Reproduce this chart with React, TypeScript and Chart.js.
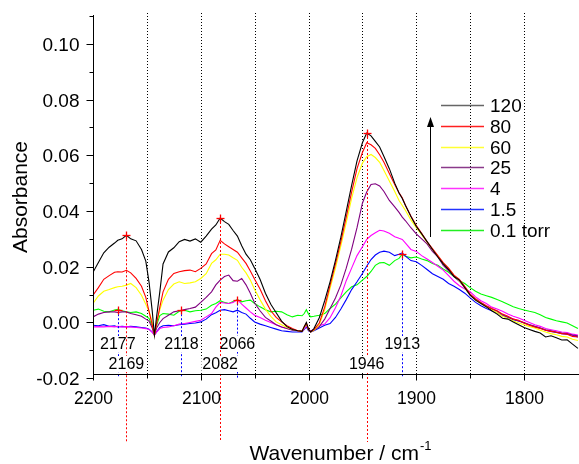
import React, { useEffect, useRef } from 'react';
import { Chart, registerables } from 'chart.js';
Chart.register(...registerables);

const WAVENUMBERS = [
  2200, 2195, 2190, 2185, 2180, 2177, 2173, 2169, 2165, 2160,
  2155, 2151, 2148, 2145, 2143, 2141, 2138, 2135, 2130, 2125,
  2120, 2115, 2110, 2105, 2100, 2095, 2090, 2086, 2082, 2078,
  2074, 2070, 2066, 2062, 2058, 2054, 2050, 2045, 2040, 2035,
  2030, 2025, 2020, 2015, 2010, 2006, 2004, 2002, 2000, 1998,
  1995, 1990, 1985, 1980, 1975, 1970, 1965, 1960, 1955, 1950,
  1946, 1942, 1938, 1934, 1930, 1925, 1920, 1916, 1913, 1910,
  1905, 1900, 1895, 1890, 1885, 1880, 1875, 1870, 1865, 1860,
  1855, 1850, 1845, 1840, 1835, 1830, 1825, 1820, 1815, 1810,
  1805, 1800, 1795, 1790, 1785, 1780, 1775, 1770, 1765, 1760,
  1755, 1750,
];

const ABS_120 = [
  0.018, 0.0215, 0.025, 0.027, 0.0285, 0.0295, 0.030, 0.0313, 0.030, 0.0293,
  0.0262, 0.022, 0.0145, 0.004, -0.0045, 0.002, 0.011, 0.021, 0.0253, 0.0268,
  0.029, 0.0298, 0.0292, 0.030, 0.0288, 0.031, 0.0335, 0.035, 0.0375, 0.0362,
  0.0352, 0.033, 0.031, 0.0275, 0.0245, 0.0225, 0.0195, 0.0155, 0.0105, 0.0065,
  0.0035, 0.0005, -0.0015, -0.0025, -0.003, -0.0032, -0.0015, 0.0, -0.0025, -0.0034,
  -0.0022, 0.0017, 0.0078, 0.0146, 0.0223, 0.0306, 0.0399, 0.0492, 0.058, 0.0645,
  0.068, 0.067, 0.065, 0.063, 0.0596, 0.0552, 0.050, 0.0465, 0.0445, 0.042,
  0.038, 0.0345, 0.0318, 0.029, 0.0262, 0.0235, 0.021, 0.019, 0.0165, 0.0152,
  0.0125, 0.0098, 0.008, 0.0068, 0.0056, 0.0042, 0.003, 0.0015, 0.0012, 0.0002,
  -0.0008, -0.0018, -0.0025, -0.0032, -0.0038, -0.0052, -0.0048, -0.0055, -0.0063, -0.0062,
  -0.0078, -0.0093,
];

const ABS_80 = [
  0.0098, 0.0125, 0.0155, 0.0168, 0.018, 0.0182, 0.0181, 0.0187, 0.0178, 0.0158,
  0.013, 0.009, 0.004, -0.001, -0.0045, -0.0005, 0.0055, 0.011, 0.0155, 0.0176,
  0.0182, 0.0186, 0.0188, 0.0182, 0.0194, 0.021, 0.0247, 0.026, 0.0295, 0.0282,
  0.0272, 0.0262, 0.0252, 0.0232, 0.0212, 0.0185, 0.0155, 0.012, 0.0078, 0.0042,
  0.0018, 0.0002, -0.0012, -0.0022, -0.003, -0.0032, -0.0015, -0.0002, -0.0025, -0.0034,
  -0.0026, -0.0002, 0.0055, 0.0134, 0.021, 0.029, 0.0378, 0.0468, 0.0552, 0.061,
  0.0645, 0.0638, 0.0625, 0.0602, 0.0575, 0.0535, 0.0495, 0.0465, 0.0448, 0.042,
  0.0382, 0.0348, 0.032, 0.029, 0.0265, 0.024, 0.0215, 0.0195, 0.017, 0.0155,
  0.013, 0.0102, 0.0085, 0.0072, 0.006, 0.005, 0.0042, 0.003, 0.0022, 0.0012,
  0.0008, -0.0002, -0.001, -0.0016, -0.0022, -0.0028, -0.0032, -0.0035, -0.004, -0.0042,
  -0.005, -0.0052,
];

const ABS_60 = [
  0.0068, 0.0095, 0.0112, 0.0118, 0.0125, 0.0128, 0.013, 0.0134, 0.014, 0.0125,
  0.0098, 0.0065, 0.004, 0.0, -0.0045, 0.0, 0.0045, 0.008, 0.0118, 0.0138,
  0.0146, 0.014, 0.0142, 0.0146, 0.0158, 0.0175, 0.0212, 0.0225, 0.0245, 0.0245,
  0.0242, 0.0232, 0.0223, 0.0198, 0.0178, 0.0152, 0.0118, 0.0082, 0.0048, 0.0022,
  0.0002, -0.0008, -0.0018, -0.0025, -0.003, -0.0032, -0.0018, -0.0005, -0.0026, -0.0034,
  -0.0028, -0.0008, 0.0045, 0.0122, 0.0195, 0.0275, 0.0358, 0.0445, 0.052, 0.0572,
  0.0595, 0.0603, 0.0592, 0.0575, 0.0545, 0.0508, 0.047, 0.0438, 0.042, 0.0402,
  0.0368, 0.034, 0.0315, 0.0288, 0.0262, 0.0238, 0.0212, 0.0192, 0.0168, 0.015,
  0.0125, 0.0098, 0.008, 0.0068, 0.0055, 0.0045, 0.0035, 0.0022, 0.0014, 0.0005,
  -0.0002, -0.0008, -0.0015, -0.002, -0.0028, -0.0034, -0.004, -0.0044, -0.005, -0.0052,
  -0.006, -0.0065,
];

const ABS_25 = [
  0.002, 0.003, 0.0036, 0.0038, 0.0038, 0.0036, 0.0038, 0.0038, 0.0032, 0.0028,
  0.0022, 0.0012, 0.0005, -0.002, -0.0045, -0.002, 0.0, 0.0014, 0.0026, 0.0038,
  0.0042, 0.0046, 0.005, 0.0055, 0.0072, 0.009, 0.011, 0.0135, 0.0152, 0.0165,
  0.017, 0.015, 0.0148, 0.0158, 0.0135, 0.0105, 0.007, 0.0042, 0.0018, 0.0005,
  -0.0008, -0.0016, -0.0022, -0.0028, -0.003, -0.0032, -0.0018, -0.0006, -0.0026, -0.0032,
  -0.0028, -0.0015, 0.0012, 0.005, 0.0088, 0.0135, 0.0195, 0.0263, 0.034, 0.0428,
  0.0468, 0.0495, 0.0498, 0.049, 0.047, 0.0438, 0.0415, 0.0395, 0.0378, 0.0365,
  0.034, 0.0318, 0.030, 0.0282, 0.0255, 0.0235, 0.0205, 0.0185, 0.0165, 0.0148,
  0.0125, 0.0098, 0.0082, 0.007, 0.0058, 0.0048, 0.004, 0.0028, 0.002, 0.0012,
  0.0005, 0.0, -0.0008, -0.0014, -0.002, -0.0026, -0.003, -0.0034, -0.0038, -0.004,
  -0.0045, -0.0048,
];

const ABS_4 = [
  -0.0016, -0.0015, -0.0016, -0.0014, -0.0016, -0.0014, -0.0016, -0.0015, -0.0016, -0.0018,
  -0.002, -0.0022, -0.0025, -0.0035, -0.0045, -0.0035, -0.0022, -0.0018, -0.0016, -0.0012,
  -0.0006, -0.0004, 0.0, 0.0004, 0.0008, 0.002, 0.0032, 0.0055, 0.0072, 0.007,
  0.0068, 0.0072, 0.0082, 0.0066, 0.0052, 0.0038, 0.0026, 0.0018, 0.0008, 0.0,
  -0.0008, -0.0016, -0.0022, -0.0026, -0.003, -0.0032, -0.0022, -0.0012, -0.0026, -0.003,
  -0.0025, -0.0012, -0.0006, 0.0017, 0.0053, 0.0095, 0.015, 0.0195, 0.024, 0.0272,
  0.0298, 0.0312, 0.0322, 0.0331, 0.0328, 0.032, 0.0308, 0.0302, 0.0298, 0.0285,
  0.0262, 0.0255, 0.024, 0.0228, 0.0215, 0.0202, 0.0188, 0.0168, 0.0148, 0.0132,
  0.012, 0.011, 0.0092, 0.0078, 0.0068, 0.0055, 0.0048, 0.004, 0.003, 0.0022,
  0.0016, 0.0008, 0.0, -0.0008, -0.0014, -0.0022, -0.0026, -0.003, -0.0034, -0.0036,
  -0.0042, -0.0045,
];

const ABS_1_5 = [
  -0.001, -0.0012, -0.0008, -0.0014, -0.0012, -0.0016, -0.0014, -0.0016, -0.0014, -0.0016,
  -0.0018, -0.002, -0.0024, -0.0035, -0.0045, -0.0034, -0.0018, -0.0012, -0.001, -0.0012,
  -0.0008, -0.0006, -0.0004, -0.0002, 0.0002, 0.0012, 0.0028, 0.0035, 0.0044, 0.0046,
  0.0042, 0.0038, 0.0044, 0.0036, 0.003, 0.0015, 0.0002, -0.0006, -0.0012, -0.0018,
  -0.0024, -0.003, -0.0032, -0.0034, -0.0034, -0.0034, -0.0025, -0.0016, -0.003, -0.0034,
  -0.003, -0.002, -0.001, -0.0004, 0.0018, 0.0048, 0.0082, 0.0118, 0.0146, 0.0176,
  0.0202, 0.0226, 0.0242, 0.0252, 0.0256, 0.0252, 0.024, 0.0245, 0.025, 0.0238,
  0.0222, 0.0218, 0.0205, 0.019, 0.0175, 0.0165, 0.0155, 0.014, 0.013, 0.0118,
  0.0105, 0.0088, 0.0072, 0.006, 0.005, 0.0042, 0.0034, 0.0025, 0.0018, 0.001,
  0.0005, -0.0002, -0.0008, -0.0015, -0.002, -0.0028, -0.0032, -0.0036, -0.004, -0.0042,
  -0.0046, -0.0052,
];

const ABS_0_1 = [
  0.0044, 0.0048, 0.004, 0.0038, 0.0045, 0.0047, 0.0042, 0.0038, 0.0036, 0.0038,
  0.0032, 0.0022, 0.0015, -0.0015, -0.0045, -0.001, 0.0025, 0.0032, 0.003, 0.0026,
  0.004, 0.0044, 0.0038, 0.0042, 0.0044, 0.0048, 0.0062, 0.0068, 0.0078, 0.0072,
  0.0068, 0.0075, 0.0082, 0.0074, 0.0078, 0.008, 0.0068, 0.0056, 0.0046, 0.0038,
  0.004, 0.0038, 0.0028, 0.002, 0.0026, 0.0024, 0.0032, 0.0046, 0.003, 0.002,
  0.0022, 0.0026, 0.0032, 0.005, 0.0066, 0.0088, 0.011, 0.0128, 0.0135, 0.0152,
  0.0165, 0.0183, 0.0205, 0.0214, 0.0215, 0.0205, 0.0222, 0.023, 0.0245, 0.0238,
  0.0232, 0.0235, 0.0228, 0.0222, 0.0212, 0.0205, 0.0192, 0.018, 0.0165, 0.015,
  0.014, 0.0125, 0.0112, 0.0102, 0.0096, 0.009, 0.0082, 0.0074, 0.0065, 0.0056,
  0.005, 0.0045, 0.004, 0.0036, 0.0028, 0.0018, 0.0012, 0.0006, 0.0002, -0.0002,
  -0.0012, -0.0022,
];

const SERIES = [ABS_120, ABS_80, ABS_60, ABS_25, ABS_4, ABS_1_5, ABS_0_1];
const SERIES_LABELS = ['120', '80', '60', '25', '4', '1.5', '0.1 torr'];
const SERIES_COLORS = ['#000000', '#ff0000', '#ffff00', '#800080', '#ff00ff', '#0000ff', '#00ff00'];
const LEGEND_COLORS = ['#666666', '#ff2020', '#ffff33', '#8a3a8a', '#ff33ff', '#2233ff', '#22ee22'];

const Y_MAJOR = [-0.02, 0.0, 0.02, 0.04, 0.06, 0.08, 0.1];
const Y_MINOR = [-0.01, 0.01, 0.03, 0.05, 0.07, 0.09, 0.11];
const X_MAJOR = [2200, 2100, 2000, 1900, 1800];
const X_MINOR = [2150, 2050, 1950, 1850];
const X_GRID = [2150, 2100, 2050, 2000, 1950, 1900, 1850, 1800];

const PEAK_WN = [2169, 2082, 1946];
const PEAK_ABS = [0.0313, 0.0375, 0.068];
const BAND_WN = [2177, 2118, 2066, 1913];
const BAND_ABS = [0.0044, 0.0044, 0.0082, 0.0245];

const FONT = '"Liberation Sans", Arial, Helvetica, sans-serif';

function vline(ctx: CanvasRenderingContext2D, x: number, y0: number, y1: number) {
  ctx.beginPath();
  ctx.moveTo(x, y0);
  ctx.lineTo(x, y1);
  ctx.stroke();
}
function hline(ctx: CanvasRenderingContext2D, x0: number, x1: number, y: number) {
  ctx.beginPath();
  ctx.moveTo(x0, y);
  ctx.lineTo(x1, y);
  ctx.stroke();
}

function boxedLabel(ctx: CanvasRenderingContext2D, text: string, cx: number, cy: number) {
  ctx.font = `16px ${FONT}`;
  const w = ctx.measureText(text).width;
  ctx.fillStyle = '#ffffff';
  ctx.fillRect(cx - w / 2 - 1, cy - 8, w + 2, 16);
  ctx.fillStyle = '#000000';
  ctx.textAlign = 'center';
  ctx.textBaseline = 'middle';
  ctx.fillText(text, cx, cy + 1);
}

const overlay = {
  id: 'overlay',
  beforeDatasetsDraw(chart: any) {
    const { ctx, chartArea: ca } = chart;
    const xs = chart.scales.x;
    ctx.save();
    ctx.strokeStyle = '#000000';
    ctx.lineWidth = 1;
    ctx.setLineDash([1, 2]);
    X_GRID.forEach((v) => {
      const px = Math.round(xs.getPixelForValue(v)) + 0.5;
      vline(ctx, px, ca.top - 3, ca.bottom);
    });
    ctx.restore();
  },
  afterDatasetsDraw(chart: any) {
    const { ctx, chartArea: ca } = chart;
    const xs = chart.scales.x;
    const ys = chart.scales.y;
    ctx.save();
    ctx.lineWidth = 1;

    // blue dotted band lines
    ctx.strokeStyle = '#0000ff';
    ctx.setLineDash([2, 2]);
    BAND_WN.forEach((w, i) => {
      const px = Math.round(xs.getPixelForValue(w)) + 0.5;
      vline(ctx, px, ys.getPixelForValue(BAND_ABS[i]), ca.bottom + 4);
    });
    ctx.setLineDash([]);

    // first row labels
    BAND_WN.forEach((w) => boxedLabel(ctx, String(w), xs.getPixelForValue(w), ca.bottom - 30));

    // red dotted peak lines
    ctx.strokeStyle = '#ff0000';
    ctx.setLineDash([2, 2]);
    PEAK_WN.forEach((w, i) => {
      const px = Math.round(xs.getPixelForValue(w)) + 0.5;
      vline(ctx, px, ys.getPixelForValue(PEAK_ABS[i]), ca.bottom + 68);
    });
    ctx.setLineDash([]);

    // second row labels
    PEAK_WN.forEach((w) => boxedLabel(ctx, String(w), xs.getPixelForValue(w), ca.bottom - 10));

    // + markers
    ctx.strokeStyle = '#ff0000';
    ctx.lineWidth = 1.3;
    const plus = (w: number, a: number) => {
      const px = Math.round(xs.getPixelForValue(w)) + 0.5;
      const py = Math.round(ys.getPixelForValue(a)) + 0.5;
      hline(ctx, px - 4, px + 4, py);
      vline(ctx, px, py - 4, py + 4);
    };
    PEAK_WN.forEach((w, i) => plus(w, PEAK_ABS[i]));
    BAND_WN.forEach((w, i) => plus(w, BAND_ABS[i]));
    ctx.lineWidth = 1;

    // axes
    ctx.strokeStyle = '#000000';
    ctx.fillStyle = '#000000';
    const left = Math.round(ca.left) + 0.5;
    const bottom = Math.round(ca.bottom) + 0.5;
    const yBottomTick = ys.getPixelForValue(-0.02);
    vline(ctx, left, ca.top - 1, Math.round(yBottomTick) + 0.5);
    hline(ctx, left, ca.right, bottom);

    ctx.font = `19px ${FONT}`;
    ctx.textAlign = 'right';
    ctx.textBaseline = 'middle';
    Y_MAJOR.forEach((v) => {
      const py = Math.round(ys.getPixelForValue(v)) + 0.5;
      hline(ctx, left - 7, left, py);
      ctx.fillText(v.toFixed(2), left - 14, py + 1);
    });
    Y_MINOR.forEach((v) => {
      const py = Math.round(ys.getPixelForValue(v)) + 0.5;
      hline(ctx, left - 4, left, py);
    });

    ctx.font = `17.5px ${FONT}`;
    ctx.textAlign = 'center';
    X_MAJOR.forEach((v) => {
      const px = Math.round(xs.getPixelForValue(v)) + 0.5;
      vline(ctx, px, bottom, bottom + 6);
      ctx.fillText(String(v), px, bottom + 25);
    });
    X_MINOR.forEach((v) => {
      const px = Math.round(xs.getPixelForValue(v)) + 0.5;
      vline(ctx, px, bottom, bottom + 4);
    });

    // axis titles
    ctx.font = `21px ${FONT}`;
    ctx.textBaseline = 'alphabetic';
    ctx.save();
    ctx.translate(27, (ca.top + ca.bottom) / 2 + 2);
    ctx.rotate(-Math.PI / 2);
    ctx.textAlign = 'center';
    ctx.fillText('Absorbance', 0, 0);
    ctx.restore();

    const main = 'Wavenumber / cm';
    const sup = '-1';
    ctx.font = `21px ${FONT}`;
    const w1 = ctx.measureText(main).width;
    ctx.font = `13px ${FONT}`;
    const w2 = ctx.measureText(sup).width;
    const cx = (ca.left + ca.right) / 2 + 4;
    const x0 = cx - (w1 + w2) / 2;
    const base = ca.bottom + 86;
    ctx.textAlign = 'left';
    ctx.font = `21px ${FONT}`;
    ctx.fillText(main, x0, base);
    ctx.font = `13px ${FONT}`;
    ctx.fillText(sup, x0 + w1 + 1, base - 10);

    // legend
    ctx.font = `19px ${FONT}`;
    ctx.textBaseline = 'middle';
    ctx.textAlign = 'left';
    const lx0 = ca.right - 138;
    const lx1 = ca.right - 95;
    const tx = ca.right - 89;
    SERIES_LABELS.forEach((lab, i) => {
      const yy = Math.round(ca.top + 89 + i * 20.8) + 0.5;
      ctx.strokeStyle = LEGEND_COLORS[i];
      ctx.lineWidth = 1.5;
      hline(ctx, lx0, lx1, yy);
      ctx.fillStyle = '#000000';
      ctx.fillText(lab, tx, yy + 1);
    });

    // arrow
    ctx.strokeStyle = '#000000';
    ctx.fillStyle = '#000000';
    ctx.lineWidth = 1;
    const ax = ca.right - 148.5;
    const ayTop = ca.top + 101;
    vline(ctx, ax, ca.top + 221, ayTop + 6);
    ctx.beginPath();
    ctx.moveTo(ax, ayTop);
    ctx.lineTo(ax - 3.5, ayTop + 10);
    ctx.lineTo(ax + 3.5, ayTop + 10);
    ctx.closePath();
    ctx.fill();

    ctx.restore();
  },
};

export default function App() {
  const ref = useRef<HTMLCanvasElement>(null);
  useEffect(() => {
    const canvas = ref.current;
    if (!canvas) return;
    const chart = new Chart(canvas, {
      type: 'line',
      data: {
        datasets: SERIES.map((s, i) => ({
          label: SERIES_LABELS[i],
          data: WAVENUMBERS.map((w, k) => ({ x: w, y: s[k] })),
          borderColor: SERIES_COLORS[i],
          borderWidth: 1.1,
          pointRadius: 0,
          fill: false,
          tension: 0,
        })),
      },
      options: {
        responsive: false,
        animation: false,
        devicePixelRatio: 1,
        events: [],
        layout: { padding: { left: 93, right: 0, top: 16, bottom: 90 } },
        plugins: { legend: { display: false }, tooltip: { enabled: false } },
        scales: {
          x: { type: 'linear', reverse: true, min: 1749, max: 2200, display: false },
          y: { type: 'linear', min: -0.0185, max: 0.11, display: false },
        },
      },
      plugins: [overlay],
    } as any);
    return () => chart.destroy();
  }, []);
  return (
    <div style={{ position: 'fixed', left: 0, top: 0, width: 579, height: 464, background: '#ffffff' }}>
      <canvas ref={ref} width={579} height={464} style={{ display: 'block' }} />
    </div>
  );
}
